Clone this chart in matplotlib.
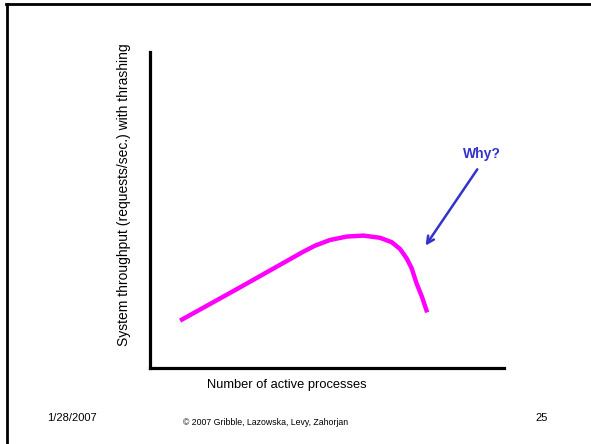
import matplotlib
matplotlib.use("Agg")
from matplotlib import pyplot as plt
from matplotlib.lines import Line2D

# curve (arbitrary units, axes run 0..10)
active = [0.85, 2.54, 4.33, 4.66, 5.08, 5.56, 6.03, 6.50, 6.83, 7.06, 7.25, 7.39, 7.53, 7.68, 7.83]
throughput = [1.50, 2.55, 3.68, 3.87, 4.05, 4.16, 4.19, 4.12, 3.98, 3.77, 3.47, 3.16, 2.68, 2.26, 1.76]

why_text = "Why?"
why_tail = (9.29, 6.36)
why_tip = (7.74, 3.80)

xlabel = "Number of active processes"
ylabel = "System throughput (requests/sec.) with thrashing"
footer_date = "1/28/2007"
footer_copy = "\u00a9 2007 Gribble, Lazowska, Levy, Zahorjan"
footer_page = "25"

plt.rcParams['font.family'] = ['Liberation Sans', 'DejaVu Sans']

W, H = 591, 444
fig = plt.figure(figsize=(W / 100, H / 100), dpi=100)

# slide border (only top and left visible in the crop)
fig.add_artist(Line2D([6 / W, 1], [1 - 4 / H, 1 - 4 / H], transform=fig.transFigure, color="black", lw=2))
fig.add_artist(Line2D([7 / W, 7 / W], [0, 1 - 4 / H], transform=fig.transFigure, color="black", lw=2))

ax = fig.add_axes([150 / W, (H - 368) / H, (504 - 150) / W, (368 - 52) / H])
ax.plot(active, throughput, color="#FF00FF", lw=3.2, solid_joinstyle="round", solid_capstyle="butt")
ax.set_xlim(0, 10)
ax.set_ylim(0, 10)

for side in ["top", "right"]:
    ax.spines[side].set_visible(False)
for side in ["left", "bottom"]:
    ax.spines[side].set_linewidth(2.3)
ax.set_xticks([])
ax.set_yticks([])

ax.annotate("", xy=why_tip, xytext=why_tail,
            arrowprops=dict(arrowstyle="->,head_length=0.5,head_width=0.25", color="#3333CC", lw=1.8))
ax.text(why_tail[0] + 0.1, why_tail[1] + 0.2, why_text, color="#3333CC", fontsize=10,
        fontweight="bold", ha="center", va="bottom")

fig.text(287 / W, 1 - 385 / H, xlabel, fontsize=9.3, ha="center", va="center")
fig.text(124 / W, 1 - 195 / H, ylabel, fontsize=10, ha="center", va="center", rotation=90)

fig.text(47 / W, 1 - 418 / H, footer_date, fontsize=8, ha="left", va="center")
fig.text(266 / W, 1 - 422 / H, footer_copy, fontsize=6.3, ha="center", va="center")
fig.text(548 / W, 1 - 418 / H, footer_page, fontsize=8, ha="right", va="center")

fig.savefig("out.png", dpi=100)
